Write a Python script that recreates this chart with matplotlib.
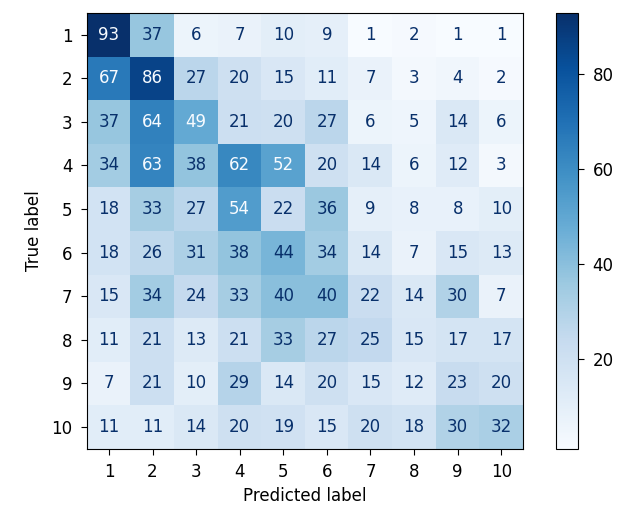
import matplotlib.pyplot as plt
import numpy as np

labels = [str(i) for i in range(1, 11)]

row_1 = [93, 37, 6, 7, 10, 9, 1, 2, 1, 1]
row_2 = [67, 86, 27, 20, 15, 11, 7, 3, 4, 2]
row_3 = [37, 64, 49, 21, 20, 27, 6, 5, 14, 6]
row_4 = [34, 63, 38, 62, 52, 20, 14, 6, 12, 3]
row_5 = [18, 33, 27, 54, 22, 36, 9, 8, 8, 10]
row_6 = [18, 26, 31, 38, 44, 34, 14, 7, 15, 13]
row_7 = [15, 34, 24, 33, 40, 40, 22, 14, 30, 7]
row_8 = [11, 21, 13, 21, 33, 27, 25, 15, 17, 17]
row_9 = [7, 21, 10, 29, 14, 20, 15, 12, 23, 20]
row_10 = [11, 11, 14, 20, 19, 15, 20, 18, 30, 32]

cm = np.array([row_1, row_2, row_3, row_4, row_5,
               row_6, row_7, row_8, row_9, row_10])

fs = 12
cmap = plt.get_cmap("Blues")

fig = plt.figure(figsize=(6.17, 5.11), dpi=100)
ax = fig.add_axes([0.141, 0.122, 0.707, 0.853])
cax = fig.add_axes([0.901, 0.122, 0.036, 0.853])

im = ax.imshow(cm, cmap=cmap, interpolation="nearest")

# text colour flips at the midpoint, like sklearn's display
thresh = (cm.max() + cm.min()) / 2.0
for i in range(cm.shape[0]):
    for j in range(cm.shape[1]):
        color = cmap(0.0) if cm[i, j] >= thresh else cmap(1.0)
        ax.text(j, i, str(cm[i, j]), ha="center", va="center",
                color=color, fontsize=fs)

ax.set_xticks(range(len(labels)))
ax.set_yticks(range(len(labels)))
ax.set_xticklabels(labels, fontsize=fs)
ax.set_yticklabels(labels, fontsize=fs)
ax.tick_params(length=4.5, pad=6)
ax.set_xlabel("Predicted label", fontsize=fs, labelpad=4)
ax.set_ylabel("True label", fontsize=fs, labelpad=6)

cb = fig.colorbar(im, cax=cax)
cb.set_ticks([20, 40, 60, 80])
cb.ax.tick_params(labelsize=fs, length=4.5, pad=6)
cb.outline.set_linewidth(0.8)

fig.savefig("out.png", dpi=100)
